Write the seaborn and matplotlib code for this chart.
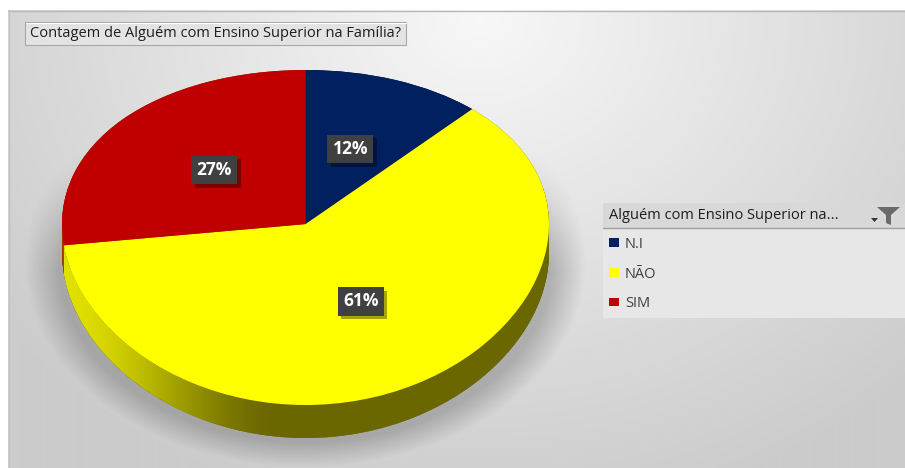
import numpy as np
import matplotlib
matplotlib.use("Agg")
import matplotlib.pyplot as plt
import matplotlib.patheffects as pe
from matplotlib.patches import Polygon, Rectangle
import seaborn as sns

# --- data -------------------------------------------------------------
categories = ["N.I", "NÃO", "SIM"]
shares = [12, 61, 27]
chart_title = "Contagem de Alguém com Ensino Superior na Família?"
legend_title = "Alguém com Ensino Superior na..."

top_colors = ["#002060", "#FFFF00", "#C00000"]
side_colors = ["#001238", "#6B6800", "#9A3A00"]

sns.set_theme(style="white")
plt.rcParams["font.family"] = ["Open Sans", "DejaVu Sans"]

W, H = 905, 468
fig = plt.figure(figsize=(W / 100, H / 100), dpi=100, facecolor="white")

# --- backdrop axes in pixel units --------------------------------------
bg = fig.add_axes([0, 0, 1, 1])
bg.axis("off")

x0, y0 = 8, 10
yy, xx = np.mgrid[y0:H, x0:W] + 0.5
r = np.sqrt(((xx - 480) / 600) ** 2 + ((yy - 20) / 500) ** 2)
L = 0.97 - 0.17 * np.clip(r, 0, 1)
bg.imshow(np.dstack([L, L, L]), extent=(x0, W, H, y0), origin="upper",
          interpolation="bilinear", zorder=0)

# soft drop shadow under the pie
d = np.sqrt(((xx - 305) / 262) ** 2 + ((yy - 262) / 192) ** 2)
alpha = 0.35 * np.clip((1.07 - d) / 0.13, 0, 1) * np.clip((yy - 150) / 120, 0, 1)
shadow = np.zeros(d.shape + (4,))
shadow[..., :3] = 0.35
shadow[..., 3] = alpha
bg.imshow(shadow, extent=(x0, W, H, y0), origin="upper",
          interpolation="bilinear", zorder=1)

bg.plot([x0, W], [y0 + 0.5, y0 + 0.5], color="#b8b8b8", lw=1, zorder=2)
bg.plot([x0 + 0.5, x0 + 0.5], [y0, H], color="#c4c4c4", lw=1, zorder=2)

# title box
bg.add_patch(Rectangle((25, 22), 381, 23, facecolor="#e3e3e3",
                       edgecolor="#a8a8a8", lw=0.8, zorder=3))
bg.plot([25.5, 405.5], [22.8, 22.8], color="white", lw=0.8, zorder=4)
bg.text(30, 33.8, chart_title, fontsize=10.5, color="#1e1e1e",
        va="center", ha="left", zorder=5)

# legend header and body
bg.add_patch(Rectangle((603, 228), 302, 90, facecolor="#e7e7e7",
                       edgecolor="none", zorder=3))
bg.add_patch(Rectangle((603, 203), 302, 25, facecolor="#d8d8d8",
                       edgecolor="none", zorder=3))
bg.plot([603, 905], [228, 228], color="#a0a0a0", lw=1, zorder=4)
bg.text(609, 215.5, legend_title, fontsize=10.5, color="#1e1e1e",
        va="center", ha="left", zorder=5)
funnel = [(877, 207), (900, 207), (891, 215), (891, 225), (886, 223), (886, 215)]
bg.add_patch(Polygon(funnel, closed=True, facecolor="#6a6a6a",
                     edgecolor="none", zorder=5))
bg.add_patch(Polygon([(871, 218), (878, 218), (874.5, 222)], closed=True,
                     facecolor="#333333", edgecolor="none", zorder=5))

bg.set_xlim(0, W)
bg.set_ylim(H, 0)
bg.set_aspect("auto")

# --- pie axes -----------------------------------------------------------
# a mild perspective on the vertical axis: the far half is squeezed,
# the near half stretched, rim points stay in place
c = 0.08


def persp(y):
    y = np.asarray(y, dtype=float)
    return y + c * (1 - y ** 2)


def persp_inv(z):
    z = np.asarray(z, dtype=float)
    return (1 - np.sqrt(np.clip(1 - 4 * c * (z - c), 0, None))) / (2 * c)


px, py = 243.5, 167.5
cx, cy = 305.5, 237.5
xl = (-1.25, 1.25)
yl = (-1.3, 1.15)
left = cx + xl[0] * px
bottom = (H - cy) + float(persp(yl[0])) * py
height = float(persp(yl[1]) - persp(yl[0])) * py
ax = fig.add_axes([left / W, bottom / H, (xl[1] - xl[0]) * px / W, height / H])
ax.patch.set_alpha(0)

depth = float(-1 - persp_inv(-1 - 33 / py))

# extruded side: stacked copies of the pie, lowest first
for off in np.linspace(depth, 0, 40):
    ax.pie(shares, colors=side_colors, startangle=90, counterclock=False,
           center=(0, -off), wedgeprops=dict(linewidth=0))

# shaded front face of the largest slice
cum = np.cumsum([0] + shares) / sum(shares) * 360
a0, a1 = max(cum[1], 90), min(cum[2], 270)
t = np.radians(np.linspace(a0, a1, 200))
top_edge = np.column_stack([np.sin(t), np.cos(t)])
low_edge = np.column_stack([np.sin(t[::-1]), np.cos(t[::-1]) - depth])
face = Polygon(np.vstack([top_edge, low_edge]), closed=True,
               transform=ax.transData, facecolor="none", edgecolor="none")
ax.add_patch(face)
gx = np.linspace(-1, 1, 400)
k = np.clip((gx + 1) / 0.9, 0, 1)
k = k * k * (3 - 2 * k)
lo = np.array([0.88, 0.88, 0.0])
hi = np.array([0.42, 0.405, 0.0])
grad = (lo[None, :] * (1 - k[:, None]) + hi[None, :] * k[:, None])[None, :, :]

# top face
wedges, _, autotexts = ax.pie(
    shares, colors=top_colors, startangle=90, counterclock=False,
    autopct="%1.0f%%", pctdistance=0.5, wedgeprops=dict(linewidth=0),
    textprops=dict(color="white", fontweight="bold", fontsize=12.5))
for w in wedges:
    w.set_zorder(2)

for at in autotexts:
    at.set_zorder(4)
    at.set_bbox(dict(boxstyle="square,pad=0.3", facecolor="#404040",
                     edgecolor="none"))
    at.get_bbox_patch().set_path_effects(
        [pe.withSimplePatchShadow(offset=(2.5, -2.5), shadow_rgbFace="black",
                                  alpha=0.35)])

ax.set_aspect("auto")
ax.set_yscale("function", functions=(persp, persp_inv))
ax.set_xlim(*xl)
ax.set_ylim(*yl)
im = ax.imshow(grad, extent=(-1, 1, -1 - depth, 0.2), origin="upper",
               aspect="auto", interpolation="bilinear", zorder=1.5)
im.set_clip_path(face)
ax.set_aspect("auto")
ax.set_xlim(*xl)
ax.set_ylim(*yl)
ax.axis("off")

fig.legend(wedges, categories, loc="upper left",
           bbox_to_anchor=(609 / W, 1 - 237 / H), frameon=False,
           handlelength=0.7, handleheight=0.55, handletextpad=0.4,
           labelspacing=1.0, fontsize=10.5, labelcolor="#404040",
           borderpad=0, borderaxespad=0)

fig.savefig("out.png", dpi=100, facecolor="white")
